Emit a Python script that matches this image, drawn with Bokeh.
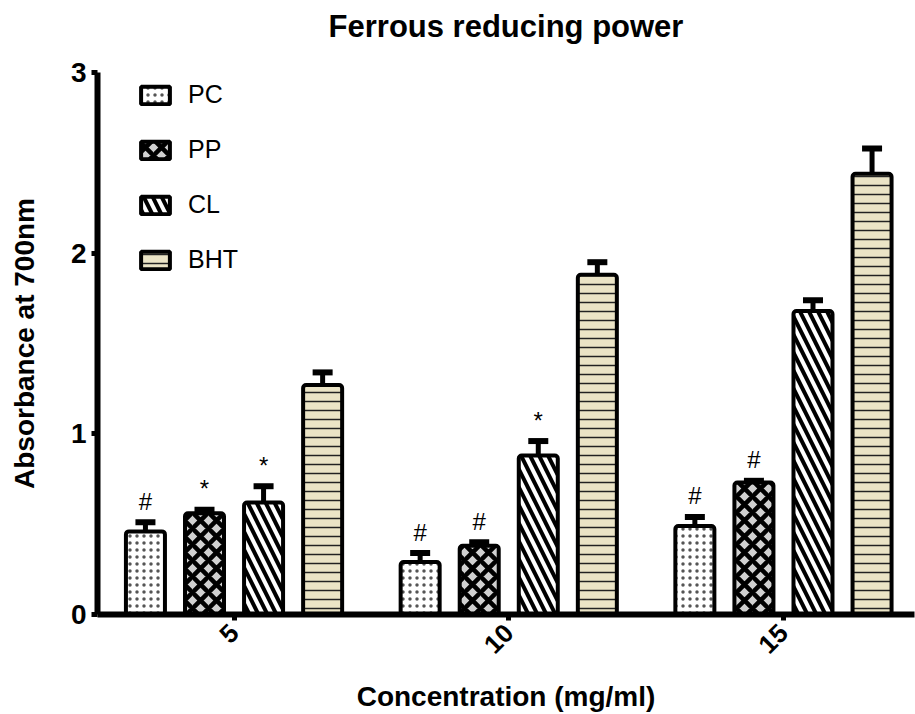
import math
import numpy as np
from bokeh.plotting import figure
from bokeh.models import Range1d, FixedTicker, ColumnDataSource, Title
from bokeh.core.properties import value
from bokeh.embed import file_html
from bokeh.resources import INLINE

# ---- data ----
concentrations = ["5", "10", "15"]
series_names = ["PC", "PP", "CL", "BHT"]

pc_mean = [0.46, 0.29, 0.49]
pc_sem = [0.05, 0.05, 0.05]
pc_sig = ["#", "#", "#"]

pp_mean = [0.56, 0.38, 0.73]
pp_sem = [0.02, 0.02, 0.01]
pp_sig = ["*", "#", "#"]

cl_mean = [0.62, 0.88, 1.68]
cl_sem = [0.09, 0.08, 0.06]
cl_sig = ["*", "*", ""]

bht_mean = [1.27, 1.88, 2.44]
bht_sem = [0.07, 0.07, 0.14]
bht_sig = ["", "", ""]

y_ticks = [0, 1, 2, 3]
title_text = "Ferrous reducing power"

FONT = "Liberation Sans"

xr = Range1d(-0.497, 2.477)
yr = Range1d(0, 3)
p = figure(width=915, height=714, output_backend="svg", toolbar_location=None,
           x_range=xr, y_range=yr,
           min_border_left=97, min_border_right=1, min_border_top=72,
           min_border_bottom=100)
p.background_fill_color = "white"
p.border_fill_color = "white"
p.outline_line_color = None
p.xgrid.visible = False
p.ygrid.visible = False

p.title.text = title_text
p.title.align = "center"
p.title.text_font = FONT
p.title.text_font_size = "31px"
p.title.text_font_style = "bold"
p.title.text_color = "black"
p.title.standoff = 0
# empty spacer between the title and the frame
p.add_layout(Title(text=" ", text_font_size="24px", standoff=0), "above")

styles = [
    dict(fill_color="white", hatch_pattern="dot", hatch_color="#555555", hatch_scale=7, hatch_weight=1.1),
    dict(fill_color="#d0d0d0", hatch_pattern="diagonal_cross", hatch_color="black", hatch_scale=16, hatch_weight=4.5),
    dict(fill_color="white", hatch_pattern="left_diagonal_line", hatch_color="black", hatch_scale=18, hatch_weight=4),
    dict(fill_color="#ebe4c6", hatch_pattern="horizontal_line", hatch_color="#222222", hatch_scale=9, hatch_weight=1.5),
]
offsets = [-0.3225, -0.1075, 0.1075, 0.3225]
means = [pc_mean, pp_mean, cl_mean, bht_mean]
sems = [pc_sem, pp_sem, cl_sem, bht_sem]
sigs = [pc_sig, pp_sig, cl_sig, bht_sig]

gx = np.arange(len(concentrations))
for name, off, m, s, sg, st in zip(series_names, offsets, means, sems, sigs, styles):
    m = np.array(m)
    s = np.array(s)
    src = ColumnDataSource(dict(x=gx + off, top=m, upper=m + s, sig=sg))
    p.segment(x0="x", y0="top", x1="x", y1="upper", line_width=5, line_color="black", source=src)
    p.rect(x="x", y="upper", width=20, height=6, width_units="screen", height_units="screen",
           fill_color="black", line_color=None, source=src)
    p.vbar(x="x", top="top", bottom=0, width=0.142, source=src, line_color="black", line_width=4,
           border_radius=3, legend_label=name, **st)
    p.text(x="x", y="upper", text="sig", source=src, text_align="center", text_baseline="alphabetic",
           y_offset=-21, text_font_size="24px", text_font=value(FONT), text_color="black")

# axes
for ax in (p.xaxis[0], p.yaxis[0]):
    ax.axis_line_width = 6
    ax.axis_line_color = "black"
    ax.major_tick_line_width = 5
    ax.major_tick_line_color = "black"
    ax.major_tick_out = 6
    ax.major_tick_in = 0
    ax.minor_tick_line_color = None
    ax.major_label_text_font = FONT
    ax.major_label_text_font_style = "bold"
    ax.major_label_text_color = "black"
    ax.axis_label_text_font = FONT
    ax.axis_label_text_font_style = "bold"
    ax.axis_label_text_font_size = "28px"
    ax.axis_label_text_color = "black"

p.yaxis.ticker = FixedTicker(ticks=y_ticks)
p.yaxis.major_label_text_font_size = "28px"
p.yaxis.major_label_standoff = 5
p.yaxis.axis_label = "Absorbance at 700nm"
p.yaxis.axis_label_standoff = 28

p.xaxis.ticker = FixedTicker(ticks=list(gx))
p.xaxis.major_label_overrides = {int(i): c for i, c in zip(gx, concentrations)}
p.xaxis.major_label_orientation = math.pi / 4
p.xaxis.major_label_text_font_size = "26px"
p.xaxis.major_label_standoff = 8
p.xaxis.axis_label = "Concentration (mg/ml)"
p.xaxis.axis_label_standoff = 16

lg = p.legend[0]
lg.location = (40, 340)
lg.margin = 0
lg.padding = 0
lg.spacing = 26
lg.glyph_width = 36
lg.glyph_height = 22
lg.label_height = 22
lg.label_standoff = 15
lg.label_text_font = FONT
lg.label_text_font_size = "25px"
lg.label_text_color = "black"
lg.background_fill_alpha = 0
lg.border_line_alpha = 0

open("out.html", "w").write(file_html(p, INLINE))
